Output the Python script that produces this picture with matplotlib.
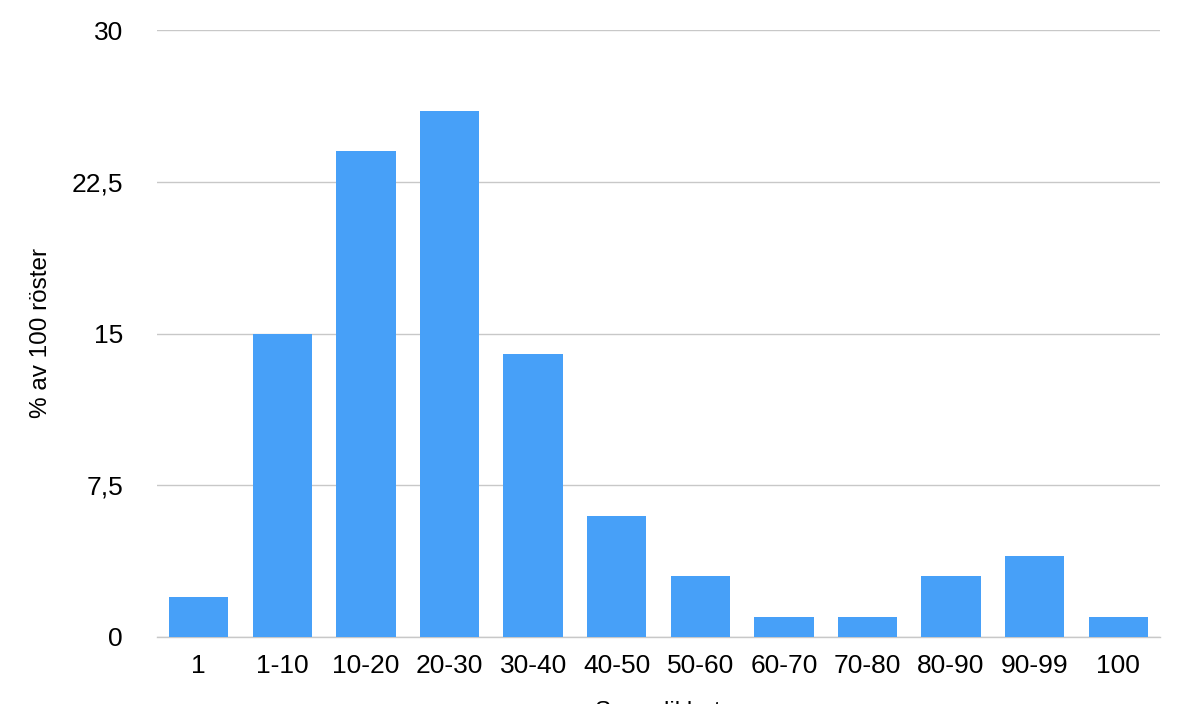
import matplotlib
matplotlib.use("Agg")
import matplotlib.pyplot as plt
from matplotlib.ticker import FixedLocator

categories = ["1", "1-10", "10-20", "20-30", "30-40", "40-50", "50-60",
              "60-70", "70-80", "80-90", "90-99", "100"]
values = [2, 15, 24, 26, 14, 6, 3, 1, 1, 3, 4, 1]
yticks = [0, 7.5, 15, 22.5, 30]
ytick_labels = ["0", "7,5", "15", "22,5", "30"]

plt.rcParams['font.family'] = ['Liberation Sans', 'DejaVu Sans']

fig = plt.figure(figsize=(11.88, 7.04), dpi=100)
ax = fig.add_axes([157/1188, 1-637/704, (1160-157)/1188, (637-30)/704])

x = list(range(len(categories)))
ax.bar(x, values, width=0.71, color="#47a0f8", zorder=3)

ax.set_xlim(-0.5, len(categories) - 0.5)
ax.set_ylim(0, 30)
ax.yaxis.set_major_locator(FixedLocator(yticks))
ax.set_yticklabels(ytick_labels)
ax.set_xticks(x)
ax.set_xticklabels(categories)

ax.grid(axis="y", color="#c8c8c8", linewidth=1, zorder=0)
for s in ["top", "right", "left"]:
    ax.spines[s].set_visible(False)
ax.spines["bottom"].set_color("#c8c8c8")
ax.spines["bottom"].set_linewidth(1)
ax.tick_params(axis="both", length=0, labelsize=19, colors="black")
ax.tick_params(axis="y", pad=24.5)
ax.tick_params(axis="x", pad=12.5)

ax.set_ylabel("% av 100 röster", fontsize=17.5, labelpad=14)
ax.set_xlabel("Sannolikhet", fontsize=17.5, labelpad=16)

fig.savefig("out.png", dpi=100)
